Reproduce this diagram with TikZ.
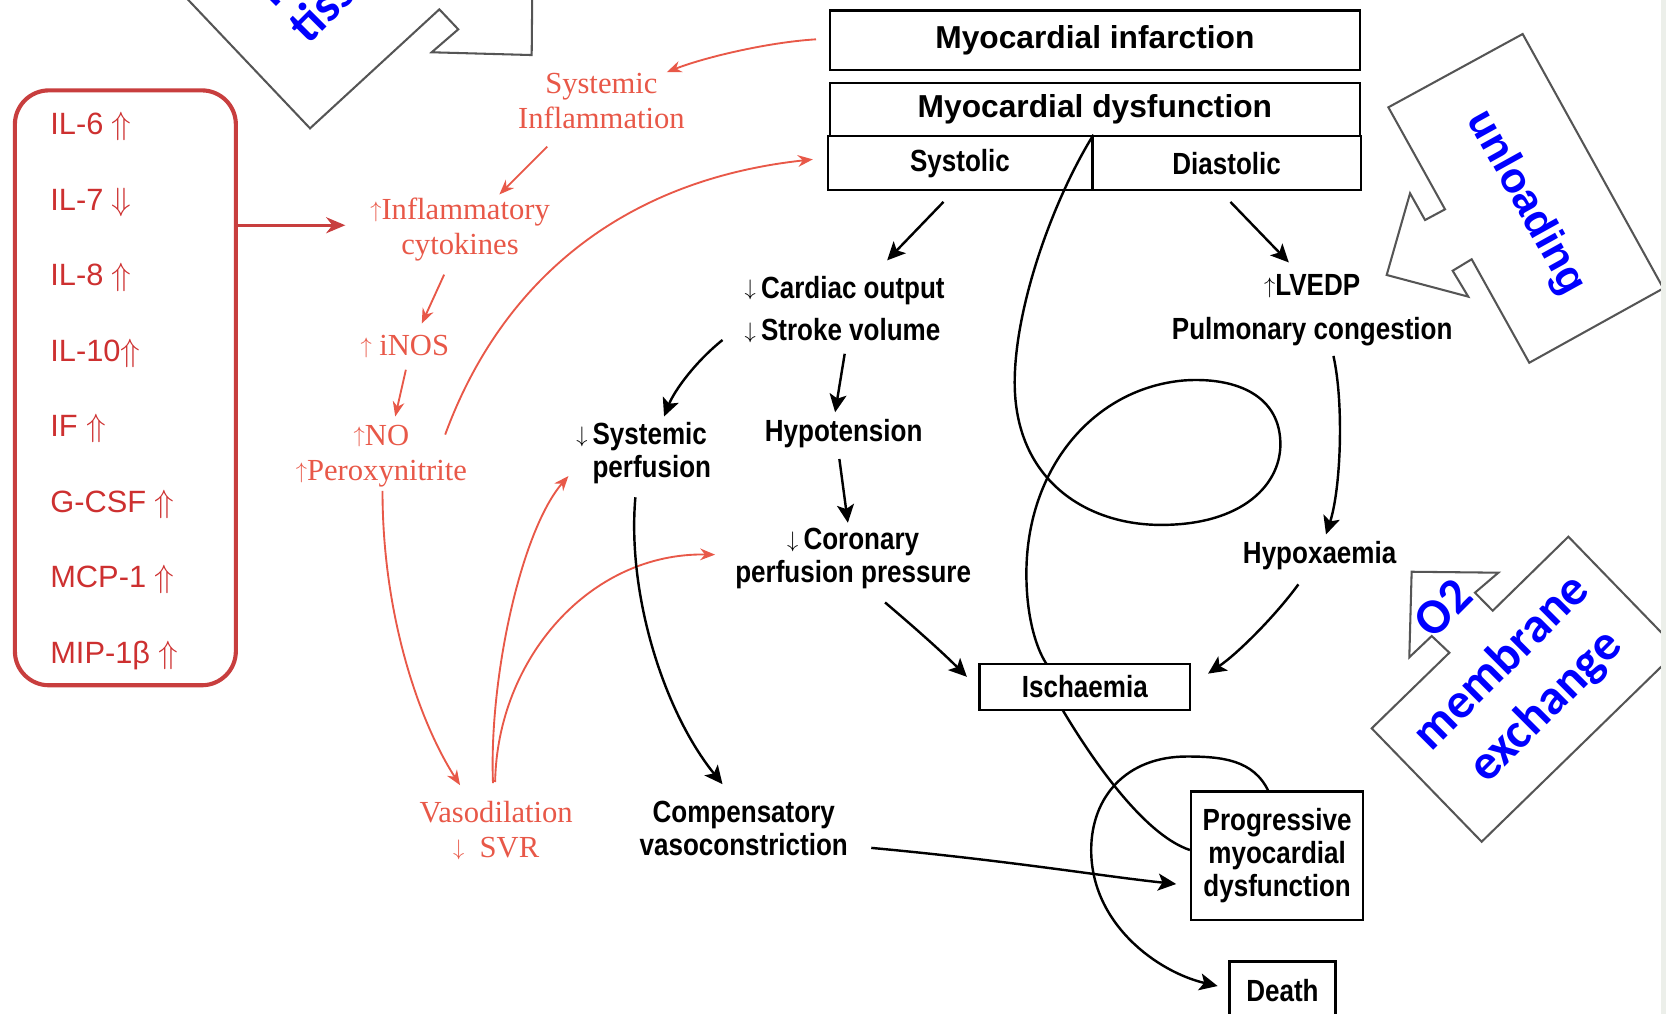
\documentclass[tikz,border=0pt]{standalone}
\usepackage{fontspec}
\usepackage{amsmath,amssymb}
\usetikzlibrary{arrows.meta,calc}
\setmainfont{Liberation Serif}
\newfontfamily\arialf{Liberation Sans}
\newfontfamily\condf{Liberation Sans}[FakeStretch=0.85]
\newfontfamily\calf{Carlito}
\definecolor{salmon}{RGB}{232,88,72}
\definecolor{boxred}{RGB}{200,62,62}
\definecolor{boxtxt}{RGB}{205,48,48}
\definecolor{callgray}{RGB}{85,85,85}
\definecolor{callblue}{RGB}{0,0,255}
\definecolor{stripgray}{RGB}{236,239,234}
\newcommand{\smup}{\raisebox{0.15ex}{$\scriptstyle\uparrow$}}
\newcommand{\smdn}{\raisebox{0.15ex}{$\scriptstyle\downarrow$}}
\tikzset{
  hdbox/.style={draw,line width=1.3pt,inner sep=0pt,font=\arialf\bfseries\fontsize{17}{20}\selectfont},
  txt/.style={inner sep=0pt,align=center,font=\condf\bfseries\fontsize{16.4}{17.6}\selectfont},
  bbox/.style={txt,draw,line width=1.3pt,fill=white},
  rtxt/.style={inner sep=0pt,align=center,text=salmon,font=\fontsize{16.4}{18.8}\selectfont},
  cktxt/.style={inner sep=0pt,anchor=west,text=boxtxt,font=\arialf\fontsize{16.5}{18}\selectfont},
  barr/.style={line width=1.3pt,-{Stealth[length=0.34cm,width=0.32cm,inset=0.08cm]}},
  rarr/.style={draw=salmon,line width=1pt,-{Stealth[length=0.28cm,width=0.22cm]}},
  callout/.style={draw=callgray,fill=white,line width=1.1pt,line join=miter},
  calltxt/.style={text=callblue,inner sep=0pt,align=center,font=\calf\bfseries\fontsize{26.7}{33.6}\selectfont}
}
\begin{document}
\begin{tikzpicture}[x=0.02cm,y=-0.02cm]
\useasboundingbox (0,0) rectangle (1568,954);
\clip (0,0) rectangle (1568,954);

% cytokine box
\node[draw=boxred,line width=2.2pt,rounded corners=0.64cm,minimum width=4.16cm,minimum height=11.2cm] (ckbox) at (118,365) {};
\foreach \lab [count=\i from 0] in {IL-6 $\Uparrow$,IL-7 $\Downarrow$,IL-8 $\Uparrow$,IL-10$\Uparrow$,IF $\Uparrow$,G-CSF $\Uparrow$,MCP-1 $\Uparrow$,MIP-1β $\Uparrow$}
  \node[cktxt] (il\i) at (47,119+71.1*\i) {\lab};

% header boxes
\node[hdbox,minimum width=9.98cm,minimum height=1.12cm] (mi) at (1030.5,38) {Myocardial infarction};
\node[hdbox,minimum width=9.98cm,minimum height=1cm] (md) at (1030.5,103) {Myocardial dysfunction};
\node[hdbox,font=\condf\bfseries\fontsize{16.4}{17.6}\selectfont,minimum width=4.98cm,minimum height=1.02cm] (sys) at (903.5,153.5) {Systolic};
\node[hdbox,font=\condf\bfseries\fontsize{16.4}{17.6}\selectfont,minimum width=5.06cm,minimum height=1.02cm] (dia) at (1154.5,153.5) {Diastolic};

% black nodes
\node[txt,align=left] (co) at (795,291) {\smdn\,Cardiac output\\[5.2pt]\smdn\,Stroke volume};
\node[txt,align=left] (syp) at (613.5,426.5) {\llap{\smdn\,}Systemic\\perfusion};
\node[txt] (hyp) at (794,408) {Hypotension};
\node[txt] (cor) at (803,526) {\smdn\,Coronary\\perfusion pressure};
\node[txt] (lv) at (1235,292) {\smup LVEDP\\[5.7pt]Pulmonary congestion};
\node[txt] (hyx) at (1242,523) {Hypoxaemia};
\node[txt] (comp) at (700,780) {Compensatory\\vasoconstriction};
\node[bbox,minimum width=3.96cm,minimum height=0.86cm] (isch) at (1021,646.5) {Ischaemia};
\node[bbox,minimum width=3.24cm,minimum height=2.42cm] (prog) at (1202,805.5) {Progressive\\myocardial\\dysfunction};
\node[bbox,minimum width=2cm,minimum height=1.1cm] (death) at (1207,932.5) {Death};

% red nodes
\node[rtxt] (sinf) at (566,95) {Systemic\\Inflammation};
\node[rtxt] (cyt) at (433,216) {\smup Inflammatory\\cytokines};
\node[rtxt] (inos) at (381,326) {\smup\ iNOS};
\node[rtxt] (no) at (359,429) {\smup NO\\\smup Peroxynitrite};
\node[rtxt] (vaso) at (467,782) {Vasodilation\\\smdn\enspace SVR};

% red arrows
\draw[boxred,line width=1.6pt,-{Stealth[length=0.36cm,width=0.3cm]}] ($(ckbox.east)+(0,-153)$) -- ($(cyt)+(-108,-4)$);
\draw[rarr] ($(mi)+(-262.5,-1)$) .. controls (720,40) and (660,55) .. ($(sinf)+(61.5,-27)$);
\draw[rarr] ($(sinf)+(-51,43)$) -- ($(cyt)+(37,-33)$);
\draw[rarr] ($(cyt)+(-15,42.5)$) -- ($(inos)+(16,-21.5)$);
\draw[rarr] ($(inos)+(1,22)$) -- ($(no)+(13,-37)$);
\draw[rarr] ($(no)+(60,-20)$) .. controls (470,270) and (580,170) .. ($(sys)+(-138.5,-3.5)$);
\draw[rarr] ($(no)+(1,33)$) .. controls (360,580) and (395,680) .. ($(vaso)+(-34,-43)$);
\draw[rarr] ($(vaso)+(-3,-45)$) .. controls (460,640) and (490,500) .. ($(syp)+(-78.5,21.5)$);
\draw[rarr] ($(vaso)+(-1,-46)$) .. controls (468,620) and (555,520) .. ($(cor)+(-130,-4)$);

% black arrows
\draw[barr] ($(sys)+(-15.5,36.5)$) -- ($(co)+(40,-46)$);
\draw[barr] ($(dia)+(3.5,36.5)$) -- ($(lv)+(-22,-45)$);
\draw[barr] ($(co)+(-115,29)$) .. controls (655,340) and (635,367) .. ($(syp)+(11.5,-34.5)$);
\draw[barr] ($(co)+(0,42)$) -- ($(hyp)+(-8,-20)$);
\draw[barr] ($(hyp)+(-4,24)$) -- ($(cor)+(-5,-34)$);
\draw[barr] ($(cor)+(30,41)$) .. controls (860,590) and (885,612) .. ($(isch)+(-111,-9.5)$);
\draw[barr] ($(lv)+(20,43)$) .. controls (1265,380) and (1262,460) .. ($(hyx)+(6,-20)$);
\draw[barr] ($(hyx)+(-20,27)$) .. controls (1200,580) and (1165,615) .. ($(isch)+(116,-12.5)$);
\draw[barr] ($(syp)+(-15.5,41.5)$) .. controls (590,560) and (625,670) .. ($(comp)+(-20,-42)$);
\draw[barr] ($(comp)+(120,18)$) .. controls (950,810) and (1040,825) .. ($(prog)+(-95,26.5)$);
\draw[line width=1.3pt] (sys.north east) .. controls (990,190) and (955,290) .. (955,360)
  .. controls (955,450) and (1020,493) .. (1090,494) .. controls (1170,495) and (1207,455) .. (1205,415)
  .. controls (1203,370) and (1160,355) .. (1115,358) .. controls (1030,365) and (966,440) .. (966,540)
  .. controls (966,580) and (975,610) .. ($(isch)+(-36,-21.5)$);
\draw[line width=1.3pt] ($(isch)+(-21,21.5)$) .. controls (1025,710) and (1075,785) .. ($(prog.west)+(0,-5.5)$);
\draw[barr] ($(prog)+(-8,-60.5)$) .. controls (1180,715) and (1150,712) .. (1117,712)
  .. controls (1060,712) and (1027,750) .. (1027,800) .. controls (1027,870) and (1090,915) .. ($(death)+(-61,-4.5)$);

% callouts
\draw[callout] (127,-53) -- (291.8,120.8) -- (413.5,8.8) -- (431.3,27.6) -- (406.3,49.2) -- (500.4,51.8) -- (501.4,-53) -- cycle;
\node[calltxt,rotate=45,anchor=base west] (tis) at (290,43) {tissues};
\node[calltxt,rotate=45,anchor=base] (perf) at (310,-44) {Perfuse};
\draw[callout] (1306.7,101) -- (1433.1,32) -- (1565.5,271.4) -- (1439.3,341.4) -- (1385.1,244) -- (1367.2,254.8)
  -- (1381.9,279.2) -- (1305.1,258.8) -- (1327.1,181.9) -- (1341.2,207.1) -- (1360,197) -- cycle;
\node[calltxt,rotate=-61,font=\arialf\bfseries\fontsize{22.8}{26}\selectfont] (unl) at (1436,191) {unloading};
\draw[callout] (1328.6,538.1) -- (1410.2,539) -- (1388.2,557.8) -- (1404.9,574.8) -- (1476.1,505.1) -- (1579.6,611.8)
  -- (1394.5,792.2) -- (1291,685.5) -- (1364.1,614.3) -- (1347.5,598.6) -- (1326.4,618.6) -- cycle;
\node[calltxt,rotate=45] (otwo) at (1358,572) {O2};
\node[calltxt,rotate=45] (memb) at (1434.5,644.7) {membrane\\exchange};
\fill[stripgray] (1563,0) rectangle (1568,954);
\end{tikzpicture}
\end{document}
